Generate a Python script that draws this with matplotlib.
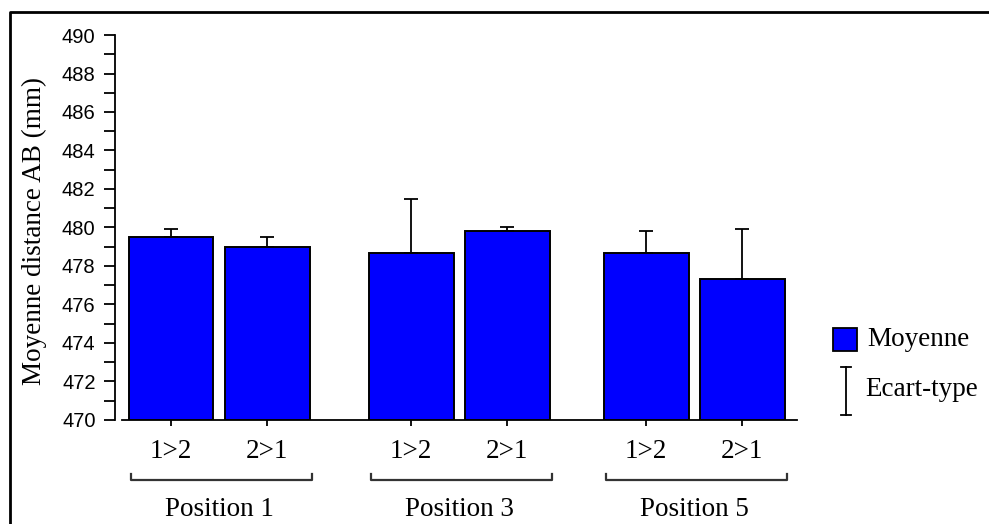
import matplotlib

matplotlib.use("Agg")
import matplotlib.pyplot as plt
from matplotlib.lines import Line2D
from matplotlib.patches import Rectangle

# ── 데이터 ────────────────────────────────────────────────────────────────
categories = ["1>2", "2>1", "1>2", "2>1", "1>2", "2>1"]
means = [479.5, 479.0, 478.65, 479.8, 478.65, 477.35]
sds = [0.4, 0.5, 2.85, 0.2, 1.15, 2.55]
groups = ["Position 1", "Position 3", "Position 5"]
y_ticks = list(range(470, 491, 2))

SERIF = "Liberation Serif"
SANS = "Liberation Sans"
FS = 19.5

xpos = [0, 1, 2.5, 3.5, 4.95, 5.95]

fig = plt.figure(figsize=(9.89, 5.24), dpi=100)
ax = fig.add_axes([0.1163, 0.1985, 0.8059 - 0.1163, 0.9332 - 0.1985])

ax.bar(xpos, [m - 470 for m in means], bottom=470, width=0.885,
       color="#0000FF", edgecolor="black", linewidth=1.4, zorder=2)
ax.errorbar(xpos, means, yerr=[[0] * len(sds), sds], fmt="none",
            ecolor="black", elinewidth=1.3, capsize=5, capthick=1.3, zorder=3)

ax.set_xlim(-0.583, 6.52)
ax.set_ylim(470, 490)
ax.set_yticks(y_ticks)
ax.set_yticks(range(470, 491), minor=True)
ax.set_yticklabels([str(t) for t in y_ticks], fontfamily=SANS, fontsize=14.5)
ax.set_xticks(xpos)
ax.set_xticklabels(categories, fontfamily=SERIF, fontsize=FS)
ax.tick_params(axis="y", which="both", direction="out", length=8, width=1.3, pad=6)
ax.tick_params(axis="x", direction="out", length=4, width=1.3, pad=10)

for s in ("top", "right"):
    ax.spines[s].set_visible(False)
ax.spines["left"].set_linewidth(1.3)
ax.spines["bottom"].set_linewidth(1.3)
ax.spines["bottom"].set_bounds(-0.51, 6.52)

ax.set_ylabel("Moyenne distance AB (mm)", fontfamily=SERIF, fontsize=FS)
ax.yaxis.set_label_coords(-0.1, 0.49)

# 그룹 괄호
trans = ax.get_xaxis_transform()
for i, name in enumerate(groups):
    x0 = xpos[2 * i] - 0.42
    x1 = xpos[2 * i + 1] + 0.47
    yb = -0.156
    ax.plot([x0, x0, x1, x1], [yb + 0.016, yb, yb, yb + 0.016], color="#333333",
            lw=1.6, transform=trans, clip_on=False)
    ax.text((xpos[2 * i] + xpos[2 * i + 1]) / 2, -0.232, name, transform=trans,
            ha="center", va="center", fontfamily=SERIF, fontsize=FS)

# 범례
fig.patches.append(Rectangle((833 / 989, 1 - 351 / 524), 24 / 989, 23 / 524,
                             transform=fig.transFigure, facecolor="#0000FF",
                             edgecolor="black", lw=1.3))
fig.text(867 / 989, 1 - 339 / 524, "Moyenne", fontfamily=SERIF, fontsize=FS,
         va="center", ha="left")
ex = 846 / 989
fig.lines.append(Line2D([ex, ex], [1 - 367 / 524, 1 - 415 / 524], color="black",
                        lw=1.3, transform=fig.transFigure))
for yy in (367, 415):
    fig.lines.append(Line2D([ex - 5 / 989, ex + 5 / 989], [1 - yy / 524] * 2,
                            color="black", lw=1.3, transform=fig.transFigure))
fig.text(865 / 989, 1 - 390 / 524, "Ecart-type", fontfamily=SERIF, fontsize=FS,
         va="center", ha="left")

# 외곽 프레임
fig.lines.append(Line2D([10 / 989, 10 / 989, 1.0], [0.0, 1 - 12 / 524, 1 - 12 / 524],
                        color="black", lw=2, transform=fig.transFigure))

fig.savefig("out.png", dpi=100)
